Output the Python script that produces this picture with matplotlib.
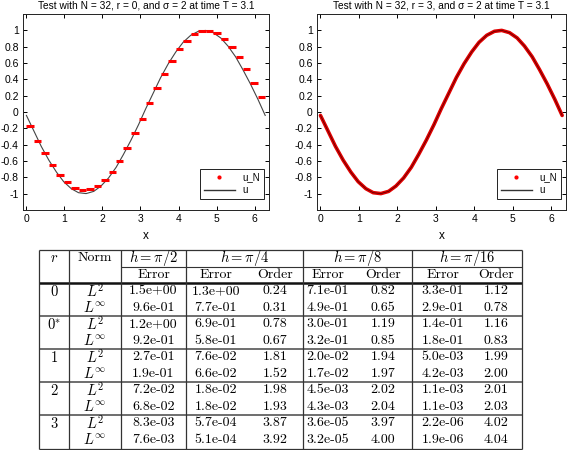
import matplotlib
matplotlib.use('Agg')
import matplotlib.pyplot as plt
from matplotlib.lines import Line2D

plt.rcParams['axes.unicode_minus'] = False
plt.rcParams['mathtext.fontset'] = 'cm'
plt.rcParams['font.family'] = ['Liberation Sans', 'DejaVu Sans']

# grid nodes (N = 32 cells on [0, 2pi]) and exact solution u at T = 3.1
x_nodes = [0.00, 0.20, 0.39, 0.59, 0.79, 0.98, 1.18, 1.37, 1.57, 1.77, 1.96,
           2.16, 2.36, 2.55, 2.75, 2.95, 3.14, 3.34, 3.53, 3.73, 3.93, 4.12,
           4.32, 4.52, 4.71, 4.91, 5.11, 5.30, 5.50, 5.69, 5.89, 6.09, 6.28]
u_exact = [-0.042, -0.236, -0.421, -0.590, -0.736, -0.853, -0.939, -0.988,
           -0.999, -0.972, -0.907, -0.808, -0.677, -0.521, -0.345, -0.154,
           0.042, 0.236, 0.421, 0.590, 0.736, 0.853, 0.939, 0.988,
           0.999, 0.972, 0.907, 0.808, 0.677, 0.521, 0.345, 0.154, -0.042]
# r = 0: one constant per cell
uN_r0 = [-0.17, -0.35, -0.50, -0.65, -0.77, -0.86, -0.93, -0.955,
         -0.947, -0.91, -0.835, -0.73, -0.60, -0.44, -0.26, -0.08,
         0.11, 0.29, 0.47, 0.63, 0.77, 0.87, 0.95, 0.99,
         0.99, 0.97, 0.89, 0.80, 0.675, 0.527, 0.358, 0.18]
# r = 3: on top of the exact solution
uN_r3 = [-0.042, -0.236, -0.421, -0.590, -0.736, -0.853, -0.939, -0.988,
         -0.999, -0.972, -0.907, -0.808, -0.677, -0.521, -0.345, -0.154,
         0.042, 0.236, 0.421, 0.590, 0.736, 0.853, 0.939, 0.988,
         0.999, 0.972, 0.907, 0.808, 0.677, 0.521, 0.345, 0.154, -0.042]

x_ticks = [0, 1, 2, 3, 4, 5, 6]
y_ticks = [-1, -0.8, -0.6, -0.4, -0.2, 0, 0.2, 0.4, 0.6, 0.8, 1]
y_ticklabels = ['-1', '-0.8', '-0.6', '-0.4', '-0.2', '0', '0.2', '0.4', '0.6', '0.8', '1']

# convergence table
r_labels = ['0', '0^{*}', '1', '2', '3']
norm_labels = ['L^2', 'L^\\infty']
h_labels = ['h=\\pi/2', 'h=\\pi/4', 'h=\\pi/8', 'h=\\pi/16']
errors = [
    [1.5e+00, 1.3e+00, 7.1e-01, 3.3e-01],
    [9.6e-01, 7.7e-01, 4.9e-01, 2.9e-01],
    [1.2e+00, 6.9e-01, 3.0e-01, 1.4e-01],
    [9.2e-01, 5.8e-01, 3.2e-01, 1.8e-01],
    [2.7e-01, 7.6e-02, 2.0e-02, 5.0e-03],
    [1.9e-01, 6.6e-02, 1.7e-02, 4.2e-03],
    [7.2e-02, 1.8e-02, 4.5e-03, 1.1e-03],
    [6.8e-02, 1.8e-02, 4.3e-03, 1.1e-03],
    [8.3e-03, 5.7e-04, 3.6e-05, 2.2e-06],
    [7.6e-03, 5.1e-04, 3.2e-05, 1.9e-06],
]
orders = [
    [0.24, 0.82, 1.12],
    [0.31, 0.65, 0.78],
    [0.78, 1.19, 1.16],
    [0.67, 0.85, 0.83],
    [1.81, 1.94, 1.99],
    [1.52, 1.97, 2.00],
    [1.98, 2.02, 2.01],
    [1.93, 2.04, 2.03],
    [3.87, 3.97, 4.02],
    [3.92, 4.00, 4.04],
]

W, H = 568, 450
fig = plt.figure(figsize=(W / 100, H / 100), dpi=100)


def px_axes(l, t, r, b):
    return fig.add_axes([l / W, 1 - b / H, (r - l) / W, (b - t) / H])


def style(ax, title):
    ax.set_xlim(-0.09, 6.38)
    ax.set_ylim(-1.2, 1.2)
    ax.set_xticks(x_ticks)
    ax.set_yticks(y_ticks)
    ax.set_yticklabels(y_ticklabels)
    ax.tick_params(direction='in', top=True, right=True, length=3,
                   width=0.7, labelsize=7.5, pad=3)
    for s in ax.spines.values():
        s.set_linewidth(0.7)
        s.set_color('#222222')
    ax.set_title(title, fontsize=7.3, pad=4)
    ax.set_xlabel('x', fontsize=8.5, labelpad=4)
    handles = [Line2D([], [], color='red', marker='.', markersize=4, linestyle='none'),
               Line2D([], [], color='#333333', lw=1.0)]
    leg = ax.legend(handles, ['u_N', 'u'], loc='lower right', fontsize=7,
                    fancybox=False, framealpha=1, edgecolor='#222222',
                    handlelength=3.2, borderpad=0.4, labelspacing=0.3,
                    bbox_to_anchor=(1.0, 0.03))
    leg.get_frame().set_linewidth(0.7)


ax1 = px_axes(23, 14, 269, 210)
ax1.plot(x_nodes, u_exact, color='#444444', lw=0.8)
ax1.hlines(uN_r0, x_nodes[:-1], x_nodes[1:], colors='red', lw=2.2)
style(ax1, 'Test with N = 32, r = 0, and \u03c3 = 2 at time T = 3.1')

ax2 = px_axes(317, 14, 566, 210)
ax2.plot(x_nodes, uN_r3, color='#e00000', lw=2.6, solid_capstyle='round')
ax2.plot(x_nodes, u_exact, color='#500000', lw=0.5)
style(ax2, 'Test with N = 32, r = 3, and \u03c3 = 2 at time T = 3.1')

# table drawn in pixel coordinates
tab = fig.add_axes([0, 0, 1, 1])
tab.set_xlim(0, W)
tab.set_ylim(H, 0)
tab.axis('off')

xe = [39, 69, 121, 186, 303, 412, 522]
y_top, y_h1, y_h2, y_bot = 250, 266.5, 283, 449
row_h = 16.5
lc = '#333333'

tab.hlines([y_top, y_bot], xe[0], xe[-1], colors=lc, lw=0.9)
tab.hlines(y_h1, xe[2], xe[-1], colors=lc, lw=0.8)
tab.hlines(y_h2, xe[0], xe[-1], colors='#111111', lw=1.8)
for g in range(1, len(r_labels)):
    tab.hlines(y_h2 + 2 * g * row_h, xe[0], xe[-1], colors='#555555', lw=1.2)
tab.vlines(xe, y_top, y_bot, colors=lc, lw=0.9)

fs = 10
tfont = dict(family='cmr10', fontsize=fs, ha='center', va='center')
mfont = dict(fontsize=fs + 0.5, ha='center', va='center')

tab.text((xe[0] + xe[1]) / 2, 258, '$r$', **mfont)
tab.text((xe[1] + xe[2]) / 2, 258, 'Norm', **tfont)
for j, lab in enumerate(h_labels):
    tab.text((xe[j + 2] + xe[j + 3]) / 2, 258, '$' + lab + '$', **mfont)

err_x = [153.5, 216, 328, 443]
ord_x = [275, 383, 496]
for cx in err_x:
    tab.text(cx, 275, 'Error', **tfont)
for cx in ord_x:
    tab.text(cx, 275, 'Order', **tfont)

for i in range(len(errors)):
    cy = y_h2 + row_h * (i + 0.5)
    if i % 2 == 0:
        tab.text((xe[0] + xe[1]) / 2, cy, '$' + r_labels[i // 2] + '$', **mfont)
    tab.text((xe[1] + xe[2]) / 2, cy, '$' + norm_labels[i % 2] + '$', **mfont)
    for j, e in enumerate(errors[i]):
        tab.text(err_x[j], cy, '%.1e' % e, **tfont)
    for j, o in enumerate(orders[i]):
        tab.text(ord_x[j], cy, '%.2f' % o, **tfont)

fig.savefig('out.png', dpi=100)
